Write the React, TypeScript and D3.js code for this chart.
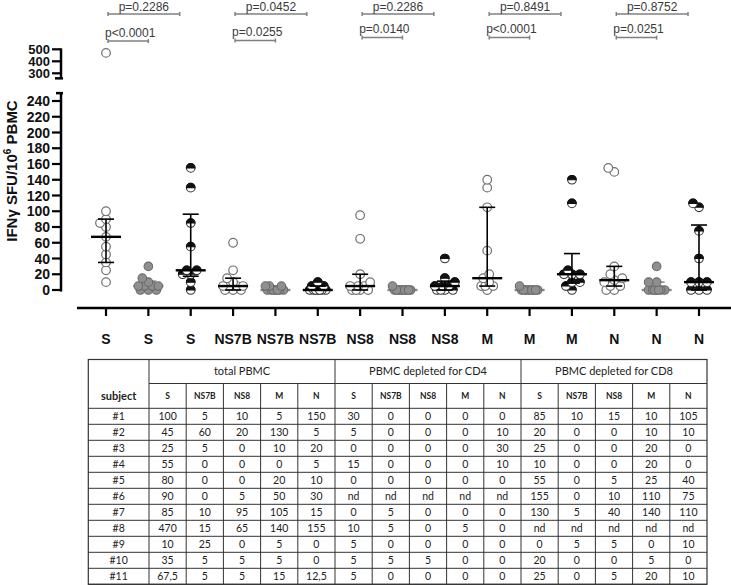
import React from "react";
import * as d3 from "d3";

// ---------- DATA ----------
const antigens = ["S", "NS7B", "NS8", "M", "N"];
const conditions = ["total PBMC", "PBMC depleted for CD4", "PBMC depleted for CD8"];
const subjects = ["#1", "#2", "#3", "#4", "#5", "#6", "#7", "#8", "#9", "#10", "#11"];

// rows = subjects, columns = antigens (S, NS7B, NS8, M, N); null = "nd"
const totalPBMC: (number | null)[][] = [
  [100, 5, 10, 5, 150],
  [45, 60, 20, 130, 5],
  [25, 5, 0, 10, 20],
  [55, 0, 0, 0, 5],
  [80, 0, 0, 20, 10],
  [90, 0, 5, 50, 30],
  [85, 10, 95, 105, 15],
  [470, 15, 65, 140, 155],
  [10, 25, 0, 5, 0],
  [35, 5, 5, 5, 0],
  [67.5, 5, 5, 15, 12.5],
];
const depletedCD4: (number | null)[][] = [
  [30, 0, 0, 0, 0],
  [5, 0, 0, 0, 10],
  [0, 0, 0, 0, 30],
  [15, 0, 0, 0, 10],
  [0, 0, 0, 0, 0],
  [null, null, null, null, null],
  [0, 5, 0, 0, 0],
  [10, 5, 0, 5, 0],
  [5, 0, 0, 0, 0],
  [5, 5, 5, 0, 0],
  [5, 0, 0, 0, 0],
];
const depletedCD8: (number | null)[][] = [
  [85, 10, 15, 10, 105],
  [20, 0, 0, 10, 10],
  [25, 0, 0, 20, 0],
  [10, 0, 0, 20, 0],
  [55, 0, 5, 25, 40],
  [155, 0, 10, 110, 75],
  [130, 5, 40, 140, 110],
  [null, null, null, null, null],
  [0, 5, 5, 0, 10],
  [20, 0, 0, 5, 0],
  [25, 0, 5, 20, 10],
];
const pTotalVsCD4 = ["p<0.0001", "p=0.0255", "p=0.0140", "p<0.0001", "p=0.0251"];
const pTotalVsCD8 = ["p=0.2286", "p=0.0452", "p=0.2286", "p=0.8491", "p=0.8752"];
const lowerTicks = [0, 20, 40, 60, 80, 100, 120, 140, 160, 180, 200, 220, 240];
const upperTicks = [300, 400, 500];

const matrices = [totalPBMC, depletedCD4, depletedCD8];

// ---------- helpers ----------
function quant(sorted: number[], p: number) {
  const n = sorted.length;
  const pos = p * (n + 1);
  if (pos <= 1) return sorted[0];
  if (pos >= n) return sorted[n - 1];
  const lo = Math.floor(pos);
  const f = pos - lo;
  return sorted[lo - 1] + f * (sorted[lo] - sorted[lo - 1]);
}

function dodge(ys: number[], minD: number, step: number, maxOff: number) {
  const items = ys.map((y) => ({ y, x: 0 })).sort((a, b) => b.y - a.y);
  const placed: { x: number; y: number }[] = [];
  const cands: number[] = [0];
  for (let k = 1; k * step <= maxOff; k++) cands.push(-k * step, k * step);
  for (const it of items) {
    let best = 0;
    let bestD = -1;
    let found = false;
    for (const off of cands) {
      const d = placed.length ? Math.min(...placed.map((p) => Math.hypot(p.x - off, p.y - it.y))) : Infinity;
      if (d >= minD) {
        it.x = off;
        found = true;
        break;
      }
      if (d > bestD + 0.01) {
        bestD = d;
        best = off;
      }
    }
    if (!found) it.x = best;
    placed.push(it);
  }
  return items;
}

const fmt = (v: number | null) => (v === null ? "nd" : String(v).replace(".", ","));

export default function App() {
  const groups = antigens.flatMap((a, ai) =>
    matrices.map((m, ci) => ({
      id: `${a}-${ci}`,
      antigen: a,
      ai,
      ci,
      values: m.map((r) => r[ai]).filter((v): v is number => v !== null),
    }))
  );

  const x = d3.scalePoint<string>().domain(groups.map((g) => g.id)).range([106, 699]);
  const yLow = d3.scaleLinear().domain([0, 240]).range([290, 101]);
  const yUp = d3.scaleLinear().domain([300, 500]).range([73.3, 49.3]);
  const y = (v: number) => (v >= 258 ? yUp(v) : yLow(v));

  const axisX = 61;
  const xAxisY = 308;
  const r = 4.3;

  const lowerBracketDy = [3.5, 3, 0, 0, 0];

  // table geometry
  const tLeft = 88.3;
  const tSubj = 149;
  const colW = 37.2;
  const tTop = 359.5;
  const tRow1 = 383.5;
  const tRow2 = 408.3;
  const rowH = 16;
  const tBottom = tRow2 + rowH * subjects.length;
  const colXs = d3.range(16).map((i) => tSubj + i * colW);

  return (
    <svg
      width={731}
      height={585}
      style={{ position: "absolute", left: 0, top: 0, background: "#fff" }}
      fontFamily="'Liberation Sans', Arial, sans-serif"
    >
      <rect x={0} y={0} width={731} height={585} fill="#fff" />

      {/* y axis title */}
      <text
        transform={`translate(17,171) rotate(-90)`}
        textAnchor="middle"
        fontSize={15}
        fontWeight="bold"
        fill="#111"
      >
        IFNγ SFU/10<tspan fontSize={10} dy={-6}>6</tspan>
        <tspan dy={6}> PBMC</tspan>
      </text>

      {/* y axis: upper segment */}
      <line x1={axisX} x2={axisX} y1={yUp(508)} y2={yUp(258)} stroke="#000" strokeWidth={2.5} />
      <line x1={axisX - 6} x2={axisX + 2} y1={yUp(258)} y2={yUp(258)} stroke="#000" strokeWidth={2.5} />
      {upperTicks.map((t) => (
        <g key={t}>
          <line x1={axisX - 9} x2={axisX} y1={yUp(t)} y2={yUp(t)} stroke="#000" strokeWidth={2.2} />
          <text x={axisX - 11} y={yUp(t)} dy="0.36em" textAnchor="end" fontSize={13} fontWeight="bold" fill="#111">
            {t}
          </text>
        </g>
      ))}
      {/* y axis: lower segment */}
      <line x1={axisX} x2={axisX} y1={yLow(-2)} y2={yLow(250)} stroke="#000" strokeWidth={2.5} />
      <line x1={axisX - 5} x2={axisX + 2} y1={yLow(250)} y2={yLow(250)} stroke="#000" strokeWidth={2.5} />
      {lowerTicks.map((t) => (
        <g key={t}>
          <line x1={axisX - 9} x2={axisX} y1={yLow(t)} y2={yLow(t)} stroke="#000" strokeWidth={2.2} />
          <text x={axisX - 11} y={yLow(t)} dy="0.36em" textAnchor="end" fontSize={14} fontWeight="bold" fill="#111">
            {t}
          </text>
        </g>
      ))}

      {/* x axis */}
      <line x1={77} x2={731} y1={xAxisY} y2={xAxisY} stroke="#000" strokeWidth={2.5} />
      {groups.map((g) => (
        <g key={g.id}>
          <line x1={x(g.id)} x2={x(g.id)} y1={xAxisY} y2={xAxisY + 8} stroke="#000" strokeWidth={2.2} />
          <text x={x(g.id)} y={xAxisY + 36} textAnchor="middle" fontSize={14} fontWeight="bold" fill="#111">
            {g.antigen}
          </text>
        </g>
      ))}

      {/* groups */}
      {groups.map((g) => {
        const cx = x(g.id)!;
        const sorted = [...g.values].sort((a, b) => a - b);
        const med = quant(sorted, 0.5);
        const q1 = quant(sorted, 0.25);
        const q3 = quant(sorted, 0.75);
        const pts = dodge(g.values.map(y), 6.5, 2, 11);
        const barColor = g.ci === 1 ? "#8a8a8a" : "#000";
        const bars = (
          <g stroke={barColor}>
            <line x1={cx} x2={cx} y1={y(q1)} y2={y(q3)} strokeWidth={1.6} />
            <line x1={cx - 8} x2={cx + 8} y1={y(q1)} y2={y(q1)} strokeWidth={1.6} />
            <line x1={cx - 8} x2={cx + 8} y1={y(q3)} y2={y(q3)} strokeWidth={1.6} />
            <line x1={cx - 15} x2={cx + 15} y1={y(med)} y2={y(med)} strokeWidth={2.4} />
          </g>
        );
        return (
          <g key={g.id}>
            {g.ci === 1 && bars}
            {pts.map((p, i) => {
              const px = cx + p.x;
              if (g.ci === 0)
                return <circle key={i} cx={px} cy={p.y} r={r} fill="#fff" stroke="#707070" strokeWidth={1.2} />;
              if (g.ci === 1)
                return <circle key={i} cx={px} cy={p.y} r={r} fill="#8f8f8f" stroke="#6a6a6a" strokeWidth={1.1} />;
              return (
                <g key={i}>
                  <circle cx={px} cy={p.y} r={r} fill="#fff" stroke="#333" strokeWidth={1.1} />
                  <path
                    d={`M${px - r},${p.y} A${r},${r} 0 0 1 ${px + r},${p.y} Z`}
                    fill="#111"
                    stroke="#111"
                    strokeWidth={1.1}
                  />
                </g>
              );
            })}
            {g.ci !== 1 && bars}
          </g>
        );
      })}

      {/* p-value brackets */}
      {antigens.map((a, ai) => {
        const g0 = x(`${a}-0`)!;
        const g1 = x(`${a}-1`)!;
        const g2 = x(`${a}-2`)!;
        const lx1 = g0 + 2;
        const lx2 = g1 + 0;
        const ux1 = g0 + 2;
        const ux2 = g2 - 11;
        const ly = 37.6 + lowerBracketDy[ai];
        const uy = 14;
        return (
          <g key={a}>
            <g stroke="#808080" strokeWidth={1.5}>
              <line x1={lx1} x2={lx2} y1={ly} y2={ly} />
              <line x1={lx1} x2={lx1} y1={ly - 2} y2={ly + 2} />
              <line x1={lx2} x2={lx2} y1={ly - 2} y2={ly + 2} />
              <line x1={ux1} x2={ux2} y1={uy} y2={uy} />
              <line x1={ux1} x2={ux1} y1={uy - 2} y2={uy + 2} />
              <line x1={ux2} x2={ux2} y1={uy - 2} y2={uy + 2} />
            </g>
            <text x={(lx1 + lx2) / 2 + 2} y={ly - 4.5} textAnchor="middle" fontSize={12} fill="#3a3a3a">
              {pTotalVsCD4[ai]}
            </text>
            <text x={(ux1 + ux2) / 2} y={uy - 3} textAnchor="middle" fontSize={12} fill="#3a3a3a">
              {pTotalVsCD8[ai]}
            </text>
          </g>
        );
      })}

      {/* table */}
      <g fontFamily="Lato, 'Noto Sans', sans-serif" fill="#222">
        <rect x={tLeft} y={tTop} width={colXs[15] - tLeft} height={tBottom - tTop} fill="none" stroke="#333" strokeWidth={1.2} />
        <line x1={tSubj} x2={colXs[15]} y1={tRow1} y2={tRow1} stroke="#333" />
        {d3.range(subjects.length + 1).map((i) => (
          <line key={i} x1={tLeft} x2={colXs[15]} y1={tRow2 + i * rowH} y2={tRow2 + i * rowH} stroke="#333" />
        ))}
        <line x1={tSubj} x2={tSubj} y1={tTop} y2={tBottom} stroke="#333" />
        {colXs.slice(1, 15).map((cx, i) => (
          <line
            key={i}
            x1={cx}
            x2={cx}
            y1={(i + 1) % 5 === 0 ? tTop : tRow1}
            y2={tBottom}
            stroke="#333"
          />
        ))}
        {conditions.map((c, ci) => (
          <text key={c} x={(colXs[ci * 5] + colXs[ci * 5 + 5]) / 2} y={(tTop + tRow1) / 2} dy="0.35em" textAnchor="middle" fontSize={11}>
            {c}
          </text>
        ))}
        <text x={(tLeft + tSubj) / 2} y={(tRow1 + tRow2) / 2} dy="0.35em" textAnchor="middle" fontSize={11} fontWeight="bold">
          subject
        </text>
        {conditions.map((c, ci) =>
          antigens.map((a, ai) => (
            <text
              key={c + a}
              x={(colXs[ci * 5 + ai] + colXs[ci * 5 + ai + 1]) / 2}
              y={(tRow1 + tRow2) / 2}
              dy="0.35em"
              textAnchor="middle"
              fontSize={8.5}
              fontWeight="bold"
            >
              {a}
            </text>
          ))
        )}
        {subjects.map((s, si) => (
          <g key={s}>
            <text x={(tLeft + tSubj) / 2} y={tRow2 + si * rowH + rowH / 2} dy="0.35em" textAnchor="middle" fontSize={10.5}>
              {s}
            </text>
            {matrices.map((m, ci) =>
              m[si].map((v, ai) => (
                <text
                  key={ci + "-" + ai}
                  x={(colXs[ci * 5 + ai] + colXs[ci * 5 + ai + 1]) / 2}
                  y={tRow2 + si * rowH + rowH / 2}
                  dy="0.35em"
                  textAnchor="middle"
                  fontSize={10.5}
                >
                  {fmt(v)}
                </text>
              ))
            )}
          </g>
        ))}
      </g>
    </svg>
  );
}
